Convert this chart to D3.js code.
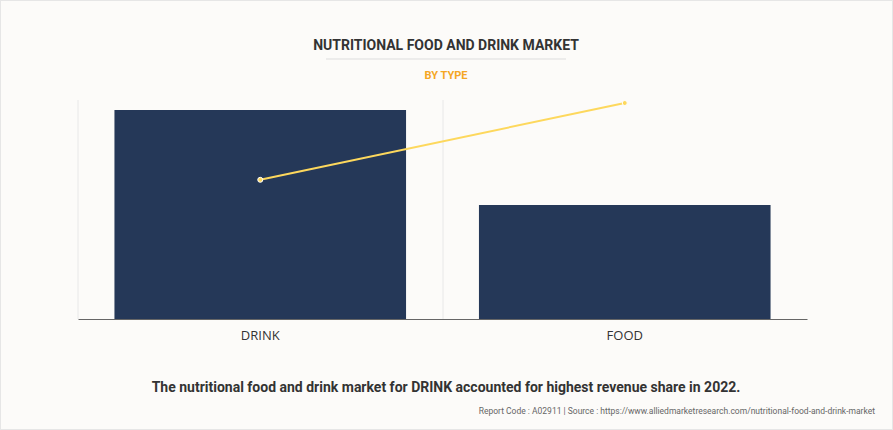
<!DOCTYPE html><html><head><meta charset="utf-8"><script src="https://cdn.jsdelivr.net/npm/d3@7"></script>
<style>body{margin:0;background:#fcfbf9;font-family:Roboto,Arial,sans-serif}</style></head><body><svg id="c" width="893" height="430"></svg>
<script>
const categories=["DRINK","FOOD"];
const barValues=[55,30];
const lineValues=[5.8,9.0];
const svg=d3.select("#c");
svg.append("rect").attr("x",0.5).attr("y",0.5).attr("width",892).attr("height",429).attr("fill","#fcfbf9").attr("stroke","#e6e6e6");
const x=d3.scaleBand().domain(categories).range([78,807]).paddingInner(0.2).paddingOuter(0.1);
const y=d3.scaleLinear().domain([0,55]).range([319,110]);
const y2=d3.scaleLinear().domain([0,9]).range([319,103]);
const xb=d3.scaleBand().domain(categories).range([78,807]);
[78,443].forEach(v=>svg.append("line").attr("x1",v).attr("x2",v).attr("y1",100).attr("y2",319).attr("stroke","#e8e8e8"));
svg.selectAll(".bar").data(categories).enter().append("rect").attr("x",d=>x(d)).attr("width",x.bandwidth())
 .attr("y",(d,i)=>y(barValues[i])).attr("height",(d,i)=>319-y(barValues[i])).attr("fill","#253858");
const ax=svg.append("g").attr("transform","translate(0,319)").call(d3.axisBottom(xb).tickSize(0).tickPadding(12));
ax.select(".domain").attr("stroke","#666");
ax.selectAll("text").attr("font-size",13).attr("fill","#333").attr("font-family","'Open Sans',sans-serif");
const line=d3.line().x((d,i)=>xb(categories[i])+xb.bandwidth()/2).y(d=>y2(d));
svg.append("path").datum(lineValues).attr("d",line).attr("fill","none").attr("stroke","#fdd85d").attr("stroke-width",2);
svg.selectAll(".pt").data(lineValues).enter().append("circle").attr("cx",(d,i)=>xb(categories[i])+xb.bandwidth()/2).attr("cy",d=>y2(d)).attr("r",2.5).attr("fill","#fdd85d").attr("stroke","#fff").attr("stroke-width",1);
svg.append("text").attr("x",446).attr("y",50).attr("text-anchor","middle").attr("font-size",14).attr("font-weight","bold").attr("fill","#333").text("NUTRITIONAL FOOD AND DRINK MARKET");
svg.append("line").attr("x1",326).attr("x2",566).attr("y1",59).attr("y2",59).attr("stroke","#ddd");
svg.append("text").attr("x",446).attr("y",79).attr("text-anchor","middle").attr("font-size",11).attr("font-weight","bold").attr("fill","#f5a623").text("BY TYPE");
svg.append("text").attr("x",446).attr("y",392).attr("text-anchor","middle").attr("font-size",14).attr("font-weight","bold").attr("fill","#333").text("The nutritional food and drink market for DRINK accounted for highest revenue share in 2022.");
svg.append("text").attr("x",875).attr("y",414).attr("text-anchor","end").attr("font-size",8.5).attr("fill","#666").text("Report Code : A02911  |  Source : https://www.alliedmarketresearch.com/nutritional-food-and-drink-market");
</script></body></html>
